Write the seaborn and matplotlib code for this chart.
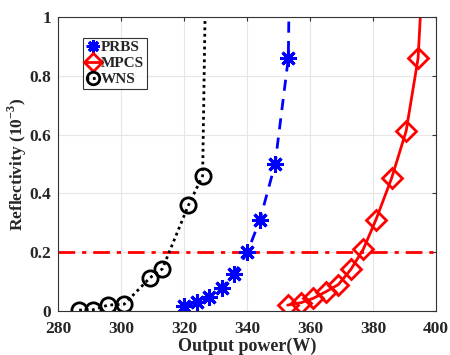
import matplotlib

matplotlib.use("Agg")
import matplotlib.pyplot as plt
import numpy as np
import pandas as pd
import seaborn as sns

# Data (reflectivity in units of 1e-3)
prbs_power = [320.0, 324.0, 328.0, 331.9, 335.9, 340.1, 344.1, 348.9, 353.1, 354.0]
prbs_refl = [0.018, 0.030, 0.047, 0.077, 0.125, 0.200, 0.310, 0.500, 0.860, 1.60]

mpcs_power = [352.9, 357.1, 361.0, 365.1, 369.0, 373.0, 376.9, 380.9, 385.9, 390.5, 394.3, 397.5]
mpcs_refl = [0.020, 0.028, 0.043, 0.066, 0.090, 0.142, 0.210, 0.310, 0.452, 0.612, 0.860, 1.50]

wns_power = [286.7, 291.1, 295.9, 301.0, 309.2, 313.1, 321.4, 325.9, 327.5]
wns_refl = [0.003, 0.004, 0.020, 0.023, 0.113, 0.143, 0.360, 0.460, 1.60]

threshold = 0.2

x_ticks = [280, 300, 320, 340, 360, 380, 400]
y_ticks = [0, 0.2, 0.4, 0.6, 0.8, 1]
y_tick_labels = ["0", "0.2", "0.4", "0.6", "0.8", "1"]

sns.set_style("white")
plt.rcParams["font.family"] = ["Liberation Serif", "DejaVu Serif"]
plt.rcParams["font.weight"] = "bold"
plt.rcParams["mathtext.fontset"] = "custom"
plt.rcParams["mathtext.rm"] = "Liberation Serif:bold"
plt.rcParams["mathtext.bf"] = "Liberation Serif:bold"

fig = plt.figure(figsize=(4.5, 3.55), dpi=100)
ax = fig.add_axes([0.129, 0.124, 0.840, 0.828])

ax.axhline(threshold, color="red", linestyle=(0, (6, 2.5, 1.5, 2.5)), linewidth=2, zorder=2)

# MATLAB-style asterisk marker
asterisk = (8, 2, 0)

sns.lineplot(x=prbs_power, y=prbs_refl, ax=ax, color="blue", linestyle=(0, (4, 3)),
             linewidth=2, marker=asterisk, markersize=12, markeredgewidth=2.2,
             markeredgecolor="blue", label="PRBS", sort=False, estimator=None)
sns.lineplot(x=mpcs_power, y=mpcs_refl, ax=ax, color="red", linestyle="-",
             linewidth=2, marker="D", markersize=10, markeredgewidth=2,
             markerfacecolor="none", markeredgecolor="red", label="MPCS",
             sort=False, estimator=None)
sns.lineplot(x=wns_power, y=wns_refl, ax=ax, color="black", linestyle=(0, (1, 1.3)),
             linewidth=2, marker="o", markersize=11, markeredgewidth=2,
             markerfacecolor="none", markeredgecolor="black", label="WNS",
             sort=False, estimator=None)

ax.set_xlim(280, 400)
ax.set_ylim(0, 1)
ax.set_xticks(x_ticks)
ax.set_yticks(y_ticks)
ax.set_yticklabels(y_tick_labels)
ax.tick_params(axis="both", direction="in", length=3, labelsize=12.5,
               top=True, right=True, color="#333333")
ax.tick_params(axis="x", pad=7)
ax.tick_params(axis="y", pad=5)
for lbl in ax.get_xticklabels() + ax.get_yticklabels():
    lbl.set_fontweight("bold")
ax.grid(True, color="#e6e6e6", linewidth=0.8)
for s in ax.spines.values():
    s.set_color("#333333")
    s.set_linewidth(0.8)

ax.set_xlabel("Output power(W)", fontsize=13, fontweight="bold", labelpad=1)
ax.set_ylabel(r"Reflectivity (10$^{-3}$)", fontsize=12.5, fontweight="bold")
ax.yaxis.set_label_coords(-0.077, 0.5)

leg = ax.legend(loc="upper left", bbox_to_anchor=(0.065, 0.93), frameon=True,
                fancybox=False, handlelength=0.9, handletextpad=0.1,
                borderpad=0.2, labelspacing=0.15, borderaxespad=0,
                prop={"family": "Liberation Serif", "weight": "bold", "size": 11})
leg.get_frame().set_edgecolor("black")
leg.get_frame().set_linewidth(0.8)
for h in leg.legend_handles:
    h.set_markersize(9)

fig.savefig("out.png", dpi=100)
